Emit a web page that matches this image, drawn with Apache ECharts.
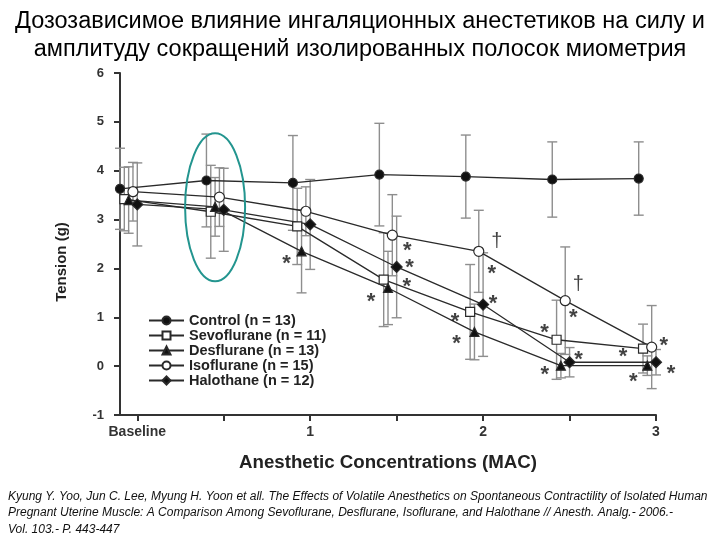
<!DOCTYPE html>
<html><head><meta charset="utf-8">
<script src="https://cdn.jsdelivr.net/npm/echarts@6/dist/echarts.min.js"></script>
<style>html,body{margin:0;padding:0;background:#fff}#c{width:720px;height:540px}</style>
</head><body><div id="c"></div>
<script>
// ---- data ----
const doses = [0, 0.5, 1, 1.5, 2, 2.5, 3];
const xTickValues = [0, 0.5, 1, 1.5, 2, 2.5, 3];
const xLabelValues = [0, 1, 2, 3];
const xLabelNames = {0: 'Baseline', 1: '1', 2: '2', 3: '3'};
const seriesNames = ['Control (n = 13)', 'Sevoflurane (n = 11)', 'Desflurane (n = 13)', 'Isoflurane (n = 15)', 'Halothane (n = 12)'];
const controlMean = [3.63, 3.80, 3.75, 3.92, 3.88, 3.82, 3.84];
const controlSD   = [0.83, 0.95, 0.97, 1.05, 0.85, 0.77, 0.75];
const sevoMean = [3.42, 3.16, 2.86, 1.77, 1.11, 0.54, 0.36];
const sevoSD   = [0.65, 0.95, 0.78, 0.96, 0.97, 0.81, 0.50];
const desMean = [3.40, 3.26, 2.35, 1.60, 0.70, 0.01, 0.01];
const desSD   = [0.68, 0.60, 0.85, 0.75, 0.57, 0.25, 0.20];
const isoMean = [3.57, 3.46, 3.17, 2.68, 2.35, 1.34, 0.39];
const isoSD   = [0.60, 0.60, 0.50, 0.83, 0.84, 1.10, 0.85];
const haloMean = [3.31, 3.20, 2.90, 2.03, 1.26, 0.08, 0.08];
const haloSD   = [0.85, 0.85, 0.92, 1.04, 1.06, 0.30, 0.26];
// significance marks (* vs control, † vs other agents)
const controlSig = ['', '', '', '', '', '', ''];
const sevoSig = ['', '', '', '*', '*', '*', '*'];
const desSig  = ['', '', '*', '*', '*', '*', '*'];
const isoSig  = ['', '', '', '*', '*', '*', '*'];
const haloSig = ['', '', '', '*', '*', '*', '*'];
const isoDagger = ['', '', '', '', '†', '†', ''];
const titleText = 'Дозозависимое влияние ингаляционных анестетиков на силу и\nамплитуду сокращений изолированных полосок миометрия';
const xAxisTitle = 'Anesthetic Concentrations (MAC)';
const yAxisTitle = 'Tension (g)';
const citation = 'Kyung Y. Yoo, Jun C. Lee, Myung H. Yoon et all. The Effects of Volatile Anesthetics on Spontaneous Contractility of Isolated Human\nPregnant Uterine Muscle: A Comparison Among Sevoflurane, Desflurane, Isoflurane, and Halothane // Anesth. Analg.- 2006.-\nVol. 103.- P. 443-447';

// ---- styling / layout (not data) ----
const groups = [
  {mean: controlMean, sd: controlSD, sig: controlSig, shift: -0.1, symbol: 'circle', size: 9, fill: '#111', sigOff: []},
  {mean: sevoMean, sd: sevoSD, sig: sevoSig, shift: -0.075, symbol: 'rect', size: 9, fill: '#fff',
   sigOff: {3: [23, 2], 4: [-15, 5], 5: [-12, -12], 6: [-20, 3]}},
  {mean: desMean, sd: desSD, sig: desSig, shift: -0.05, symbol: 'triangle', size: 9, fill: '#111',
   sigOff: {2: [-15, 8], 3: [-17, 9], 4: [-18, 7], 5: [-16, 4], 6: [-14, 11]}},
  {mean: isoMean, sd: isoSD, sig: isoSig, shift: -0.025, symbol: 'circle', size: 10, fill: '#fff',
   sigOff: {3: [15, 11], 4: [13, 18], 5: [8, 12], 6: [12, -6]}},
  {mean: haloMean, sd: haloSD, sig: haloSig, shift: 0, symbol: 'diamond', size: 11, fill: '#111',
   sigOff: {3: [13, -4], 4: [10, -6], 5: [9, -7], 6: [15, 7]}}
];
const daggerOff = {4: [18, -10], 5: [13, -16]};
const LINE = '#2a2a2a', BAR = '#8e8e8e';
const FONT = '"Liberation Sans", Arial, sans-serif';

const chart = echarts.init(document.getElementById('c'), null, {renderer: 'canvas'});
const series = [];
const errData = [];
const annot = [];
groups.forEach((g, gi) => {
  const pts = doses.map((d, i) => [d + g.shift, g.mean[i]]);
  doses.forEach((d, i) => errData.push([d + g.shift, g.mean[i] - g.sd[i], g.mean[i] + g.sd[i]]));
  series.push({
    name: seriesNames[gi], type: 'line', data: pts, z: 3,
    symbol: g.symbol, symbolSize: g.size,
    lineStyle: {color: LINE, width: 1.3},
    itemStyle: {color: g.fill, borderColor: LINE, borderWidth: 1.2},
    emphasis: {disabled: true}
  });
  g.sig.forEach((s, i) => {
    if (!s) return;
    const o = g.sigOff[i] || [12, 0];
    annot.push({value: pts[i], label: {formatter: s, offset: [o[0], o[1] + 5]}});
  });
  if (gi === 3) {
    isoDagger.forEach((s, i) => {
      if (!s) return;
      const o = daggerOff[i];
      annot.push({value: pts[i], label: {formatter: s, offset: [o[0], o[1]], fontSize: 20, fontWeight: 'normal'}});
    });
  }
});
series.unshift({
  type: 'custom', z: 1, silent: true, data: errData,
  renderItem: (params, api) => {
    const x = api.value(0), lo = api.value(1), hi = api.value(2);
    const a = api.coord([x, hi]), b = api.coord([x, lo]);
    const w = 5;
    const st = {stroke: BAR, lineWidth: 1.4};
    return {type: 'group', children: [
      {type: 'line', shape: {x1: a[0], y1: a[1], x2: b[0], y2: b[1]}, style: st},
      {type: 'line', shape: {x1: a[0] - w, y1: a[1], x2: a[0] + w, y2: a[1]}, style: st},
      {type: 'line', shape: {x1: b[0] - w, y1: b[1], x2: b[0] + w, y2: b[1]}, style: st}
    ]};
  }
});
series.push({
  type: 'scatter', z: 4, silent: true, symbolSize: 1, itemStyle: {color: 'rgba(0,0,0,0)'},
  data: annot,
  label: {show: true, position: 'inside', color: '#111', fontSize: 22, fontWeight: 'bold', fontFamily: FONT}
});

const option = {
  animation: false,
  backgroundColor: '#fff',
  title: {text: titleText, left: 'center', top: 3,
    textStyle: {fontFamily: FONT, fontSize: 23.5, fontWeight: 'normal', color: '#000', lineHeight: 28}},
  grid: {left: 120, right: 64, top: 73, bottom: 125},
  legend: {
    data: seriesNames, orient: 'vertical', left: 148, top: 313, itemGap: 0, padding: 0,
    itemWidth: 35, itemHeight: 10, selectedMode: false,
    textStyle: {fontFamily: FONT, fontSize: 14.5, fontWeight: 'bold', color: '#222', lineHeight: 15}
  },
  xAxis: {
    type: 'value', min: -0.1, max: 3,
    name: xAxisTitle, nameLocation: 'middle', nameGap: 38,
    nameTextStyle: {fontFamily: FONT, fontSize: 18.7, fontWeight: 'bold', color: '#222'},
    axisLine: {show: true, onZero: false, lineStyle: {color: '#333', width: 2}},
    axisTick: {show: true, customValues: xTickValues, length: 6, lineStyle: {color: '#333', width: 2}},
    axisLabel: {customValues: xLabelValues, formatter: v => xLabelNames[v] !== undefined ? xLabelNames[v] : '',
      fontFamily: FONT, fontSize: 14, fontWeight: 'bold', color: '#333', margin: 10},
    splitLine: {show: false}
  },
  yAxis: {
    type: 'value', min: -1, max: 6, interval: 1,
    axisLine: {show: true, onZero: false, lineStyle: {color: '#333', width: 2}},
    axisTick: {show: true, length: 6, lineStyle: {color: '#333', width: 2}},
    axisLabel: {fontFamily: FONT, fontSize: 13, fontWeight: 'bold', color: '#333', margin: 16},
    splitLine: {show: false}
  },
  series: series
};
chart.setOption(option);
const c = chart.convertToPixel({gridIndex: 0}, [0.45, 3.25]);
chart.setOption({graphic: [
  {type: 'ellipse', shape: {cx: c[0], cy: c[1], rx: 30, ry: 74}, style: {fill: 'none', stroke: '#23958f', lineWidth: 2}, z: 10},
  {type: 'text', x: 62, y: 262, rotation: Math.PI / 2,
   style: {text: yAxisTitle, font: 'bold 15px ' + FONT, fill: '#222', textAlign: 'center', textVerticalAlign: 'middle'}},
  {type: 'text', x: 8, y: 488,
   style: {text: citation, font: 'italic 12px ' + FONT, fill: '#111', lineHeight: 16.5, textAlign: 'left', textVerticalAlign: 'top'}}
]});
</script></body></html>
